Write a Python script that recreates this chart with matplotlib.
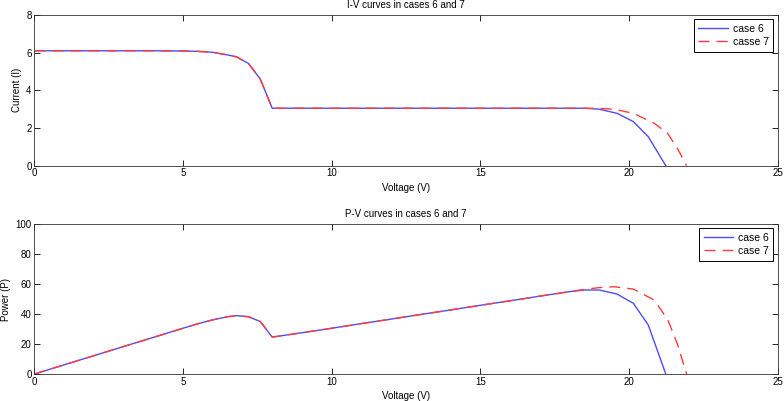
import matplotlib
matplotlib.use("Agg")
import matplotlib.pyplot as plt

# Voltage samples (V)
volt_6 = [0, 1, 2, 3, 4, 5, 5.5, 6.0, 6.5, 6.8, 7.2, 7.6, 8.0, 9, 10, 11, 12, 13, 14, 15,
          16, 17, 18, 18.5, 19.0, 19.6, 20.15, 20.65, 21.24]
volt_7 = [0, 1, 2, 3, 4, 5, 5.5, 6.0, 6.5, 6.8, 7.2, 7.6, 8.0, 9, 10, 11, 12, 13, 14, 15,
          16, 17, 18, 18.5, 19.0, 19.5, 20.15, 20.85, 21.3, 21.63, 21.94]

# Current (A)
curr_6 = [6.1, 6.1, 6.1, 6.1, 6.1, 6.09, 6.07, 6.02, 5.88, 5.78, 5.43, 4.6, 3.05, 3.05, 3.05,
          3.05, 3.05, 3.05, 3.05, 3.05, 3.05, 3.05, 3.05, 3.05, 3.0, 2.78, 2.34, 1.54, 0.0]
curr_7 = [6.1, 6.1, 6.1, 6.1, 6.1, 6.09, 6.07, 6.02, 5.88, 5.78, 5.43, 4.6, 3.05, 3.05, 3.05,
          3.05, 3.05, 3.05, 3.05, 3.05, 3.05, 3.05, 3.05, 3.05, 3.04, 3.0, 2.78, 2.25, 1.72, 0.92, 0.0]

# Power (W)
pow_6 = [0, 6.1, 12.2, 18.3, 24.4, 30.5, 33.5, 36.1, 38.2, 38.9, 38.2, 35.0, 24.6, 27.5, 30.5,
         33.6, 36.6, 39.7, 42.7, 45.8, 48.8, 51.9, 54.9, 56.0, 56.0, 53.3, 47.1, 32.7, 0.0]
pow_7 = [0, 6.1, 12.2, 18.3, 24.4, 30.5, 33.5, 36.1, 38.2, 38.9, 38.2, 35.0, 24.6, 27.5, 30.5,
         33.6, 36.6, 39.7, 42.7, 45.8, 48.8, 51.9, 54.9, 56.4, 57.6, 58.2, 56.6, 49.3, 36.5, 20.0, 0.0]

plt.rcParams["font.family"] = ["Liberation Sans", "DejaVu Sans"]
plt.rcParams["font.size"] = 7

BLUE = "#4d4dff"
RED = "#ff3b3b"
DASH = (0, (8, 5))

fig = plt.figure(figsize=(7.84, 4.01), dpi=100)
ax1 = fig.add_axes([0.0438, 0.5868, 0.948, 0.3758])
ax2 = fig.add_axes([0.0438, 0.0673, 0.948, 0.3741])


def style(ax):
    ax.tick_params(direction="in", top=True, right=True, length=4, width=0.6, labelsize=7, pad=2)
    for s in ax.spines.values():
        s.set_linewidth(0.6)
        s.set_color("#333333")
    ax.set_xlim(0, 25)
    ax.set_xticks([0, 5, 10, 15, 20, 25])


def add_legend(ax):
    leg = ax.legend(loc="upper right", fancybox=False, edgecolor="black", framealpha=1,
                    fontsize=7.5, handlelength=2.8, handletextpad=0.5, labelspacing=0.3,
                    borderpad=0.45, borderaxespad=0.4)
    leg.get_frame().set_linewidth(0.7)


ax1.plot(volt_6, curr_6, color=BLUE, lw=1.0, label="case 6")
ax1.plot(volt_7, curr_7, color=RED, lw=1.0, ls=DASH, label="casse 7")
ax1.set_ylim(0, 8)
ax1.set_yticks([0, 2, 4, 6, 8])
ax1.set_title("I-V curves in cases 6 and 7", fontsize=7, pad=5)
ax1.set_xlabel("Voltage (V)", labelpad=3)
ax1.set_ylabel("Current (I)", labelpad=3)
style(ax1)
add_legend(ax1)

ax2.plot(volt_6, pow_6, color=BLUE, lw=1.0, label="case 6")
ax2.plot(volt_7, pow_7, color=RED, lw=1.0, ls=DASH, label="case 7")
ax2.set_ylim(0, 100)
ax2.set_yticks([0, 20, 40, 60, 80, 100])
ax2.set_title("P-V curves in cases 6 and 7", fontsize=7, pad=5)
ax2.set_xlabel("Voltage (V)", labelpad=3)
ax2.set_ylabel("Power (P)", labelpad=3)
style(ax2)
add_legend(ax2)

fig.savefig("out.png", dpi=100)
